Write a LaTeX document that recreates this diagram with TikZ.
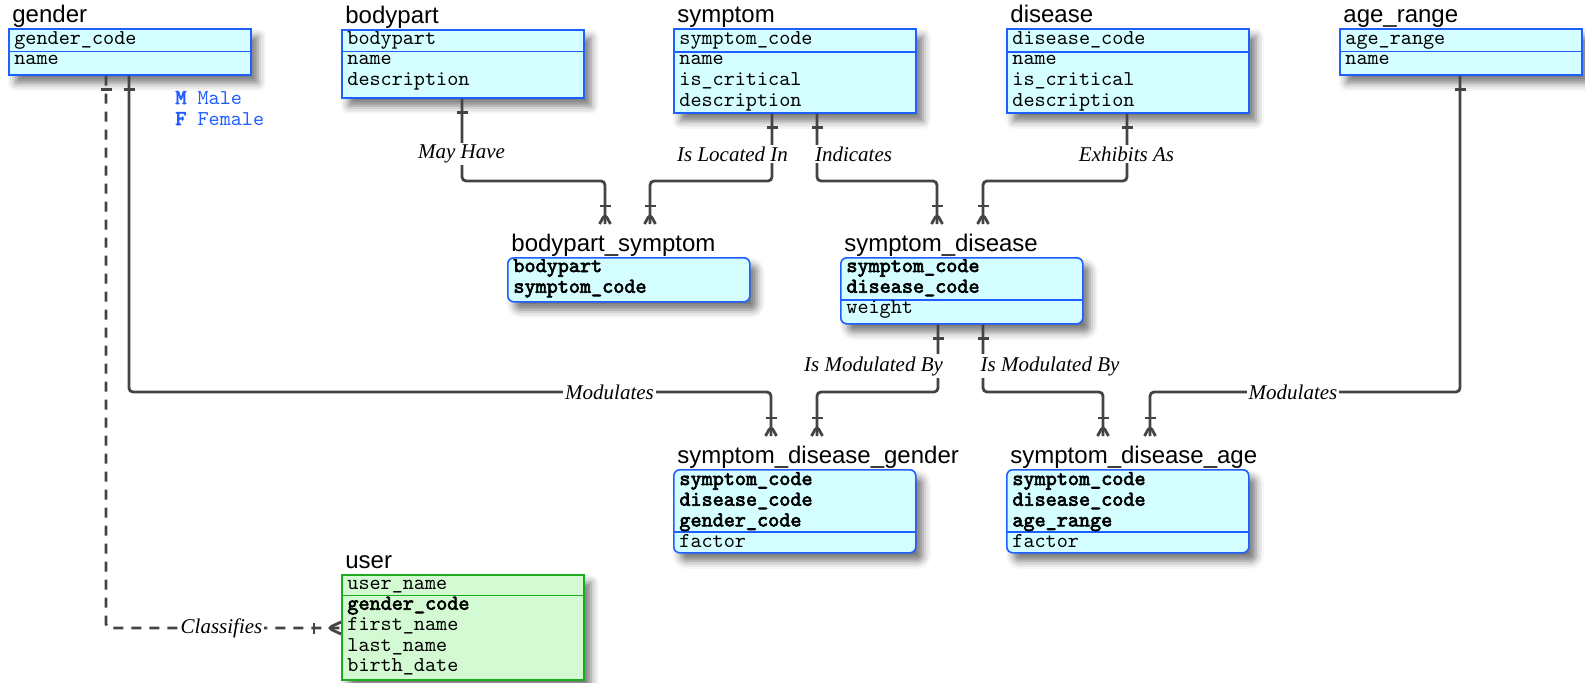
\documentclass[tikz,border=0pt]{standalone}
\usepackage{fontspec}
\setmainfont{Liberation Serif}
\setsansfont{Liberation Sans}
\setmonofont{Latin Modern Mono}[AutoFakeBold=3]
\usetikzlibrary{shadows.blur,decorations.markings}

\definecolor{tblfill}{HTML}{D4FEFF}
\definecolor{tbldraw}{HTML}{1F5FFF}
\definecolor{usrfill}{HTML}{D4FAD4}
\definecolor{usrdraw}{HTML}{1DAA1D}
\definecolor{relline}{HTML}{444444}
\definecolor{legblue}{HTML}{1F5FFF}

\begin{document}
\begin{tikzpicture}[x=0.5pt, y=-0.5pt,
    tbl/.style={draw=tbldraw, fill=tblfill, line width=0.8pt, anchor=north west, inner sep=0pt,
        minimum width=121pt,
        blur shadow={shadow xshift=3.5pt, shadow yshift=-4pt, shadow blur radius=4pt, shadow opacity=55}},
    lnk/.style={tbl, rounded corners=3pt},
    usr/.style={tbl, draw=usrdraw, fill=usrfill},
    ttl/.style={anchor=base west, inner sep=0pt, font=\fontsize{12}{14}\sffamily},
    fld/.style={anchor=base west, inner sep=0pt, font=\fontsize{10.57}{10.35}\ttfamily},
    div/.style={draw=tbldraw, line width=0.8pt},
    rel/.style={draw=relline, line width=1.4pt, rounded corners=2pt},
    lbl/.style={fill=white, inner sep=1pt, font=\fontsize{10.5}{12}\itshape},
    one/.style={postaction={decorate, decoration={markings,
        mark=at position 7pt with {\draw[solid, relline, line width=1.4pt] (0pt,-2.75pt) -- (0pt,2.75pt);}}}},
    many/.style={postaction={decorate, decoration={markings,
        mark=at position -9pt with {\draw[solid, relline, line width=1.4pt] (0pt,-2.75pt) -- (0pt,2.75pt);},
        mark=at position -5pt with {\draw[solid, relline, line width=1.4pt] (5pt,2.75pt) -- (0pt,0pt) -- (5pt,-2.75pt);}}}},
    many far/.style={postaction={decorate, decoration={markings,
        mark=at position -13.5pt with {\draw[solid, relline, line width=1.4pt] (0pt,-2.75pt) -- (0pt,2.75pt);},
        mark=at position -6.5pt with {\draw[solid, relline, line width=1.4pt] (6.5pt,3pt) -- (0pt,0pt) -- (6.5pt,-3pt);}}}}]

    \useasboundingbox (0,0) rectangle (1585,682);

    % entities
    \node[tbl, minimum height=23pt] (gender) at (8,28) {};
    \node[ttl] (gender-t) at (12,22) {gender};
    \draw[div] (8,51.5) -- (250,51.5);
    \foreach \f [count=\i from 0] in {gender\_code,name}
        \node[fld] (gender-\i) at (14,44+\i*20.7) {\f};

    \node[tbl, minimum height=34pt] (bodypart) at (341,29) {};
    \node[ttl] (bodypart-t) at (345,23) {bodypart};
    \draw[div] (341,51.5) -- (583,51.5);
    \foreach \f [count=\i from 0] in {bodypart,name,description}
        \node[fld] (bodypart-\i) at (347,44+\i*20.7) {\f};

    \node[tbl, minimum height=42pt] (symptom) at (673,28) {};
    \node[ttl] (symptom-t) at (677,22) {symptom};
    \draw[div] (673,52) -- (915,52);
    \foreach \f [count=\i from 0] in {symptom\_code,name,is\_critical,description}
        \node[fld] (symptom-\i) at (679,44+\i*20.7) {\f};

    \node[tbl, minimum height=42pt] (disease) at (1006,28) {};
    \node[ttl] (disease-t) at (1010,22) {disease};
    \draw[div] (1006,52) -- (1248,52);
    \foreach \f [count=\i from 0] in {disease\_code,name,is\_critical,description}
        \node[fld] (disease-\i) at (1012,44+\i*20.7) {\f};

    \node[tbl, minimum height=23pt] (agerange) at (1339,28) {};
    \node[ttl] (agerange-t) at (1343,22) {age\_range};
    \draw[div] (1339,51.5) -- (1581,51.5);
    \foreach \f [count=\i from 0] in {age\_range,name}
        \node[fld] (agerange-\i) at (1345,44+\i*20.7) {\f};

    % link tables
    \node[lnk, minimum height=22pt] (bpsym) at (507,257) {};
    \node[ttl] (bpsym-t) at (511,251) {bodypart\_symptom};
    \foreach \f [count=\i from 0] in {\textbf{bodypart},\textbf{symptom\_code}}
        \node[fld] (bpsym-\i) at (513,272+\i*20.7) {\f};

    \node[lnk, minimum height=33pt] (sympdis) at (840,257) {};
    \node[ttl] (sympdis-t) at (844,251) {symptom\_disease};
    \draw[div] (840,300) -- (1082,300);
    \foreach \f [count=\i from 0] in {\textbf{symptom\_code},\textbf{disease\_code},weight}
        \node[fld] (sympdis-\i) at (846,272+\i*20.7) {\f};

    \node[lnk, minimum height=41.5pt] (sdgender) at (673,469) {};
    \node[ttl] (sdgender-t) at (677,463) {symptom\_disease\_gender};
    \draw[div] (673,532) -- (915,532);
    \foreach \f [count=\i from 0] in {\textbf{symptom\_code},\textbf{disease\_code},\textbf{gender\_code},factor}
        \node[fld] (sdgender-\i) at (679,485+\i*20.7) {\f};

    \node[lnk, minimum height=41.5pt] (sdage) at (1006,469) {};
    \node[ttl] (sdage-t) at (1010,463) {symptom\_disease\_age};
    \draw[div] (1006,532) -- (1248,532);
    \foreach \f [count=\i from 0] in {\textbf{symptom\_code},\textbf{disease\_code},\textbf{age\_range},factor}
        \node[fld] (sdage-\i) at (1012,485+\i*20.7) {\f};

    \node[usr, minimum height=52.5pt] (user) at (341,574) {};
    \node[ttl] (user-t) at (345,568) {user};
    \draw[div, draw=usrdraw] (341,595.5) -- (583,595.5);
    \foreach \f [count=\i from 0] in {user\_name,\textbf{gender\_code},first\_name,last\_name,birth\_date}
        \node[fld] (user-\i) at (347,589+\i*20.7) {\f};

    % gender codes
    \node[fld, text=legblue] (leg-m) at (175,104) {\textbf{M} Male};
    \node[fld, text=legblue] (leg-f) at (175,125) {\textbf{F} Female};

    % connector ends
    \coordinate (bpsym-a) at (605,224);
    \coordinate (bpsym-b) at (650,224);
    \coordinate (sympdis-a) at (937,224);
    \coordinate (sympdis-b) at (983,224);
    \coordinate (sdgender-a) at (771,436);
    \coordinate (sdgender-b) at (817,436);
    \coordinate (sdage-a) at (1103,436);
    \coordinate (sdage-b) at (1150,436);
    \coordinate (user-a) at (user.west |- 0,628);

    % relationships
    \draw[rel, one, many] (bodypart.south -| 462,0) -- (462,181) -| (bpsym-a);
    \draw[rel, one, many] (symptom.south -| 772,0) -- (772,181) -| (bpsym-b);
    \draw[rel, one, many] (symptom.south -| 817,0) -- (817,181) -| (sympdis-a);
    \draw[rel, one, many] (disease.south -| 1127,0) -- (1127,181) -| (sympdis-b);
    \draw[rel, one, many] (sympdis.south -| 938,0) -- (938,392) -| (sdgender-b);
    \draw[rel, one, many] (sympdis.south -| 983,0) -- (983,392) -| (sdage-a);
    \draw[rel, one, many] (gender.south -| 129,0) -- (129,392) -| (sdgender-a);
    \draw[rel, one, many] (agerange.south -| 1460,0) -- (1460,392) -| (sdage-b);
    \draw[rel, dash pattern=on 5pt off 4pt, one, many far] (gender.south -| 106,0) |- (user-a);

    % labels
    \node[lbl] (l-mayhave) at (461.5,154) {May Have};
    \node[lbl] (l-located) at (732.5,154) {Is Located In};
    \node[lbl] (l-indicates) at (853.5,154) {Indicates};
    \node[lbl] (l-exhibits) at (1126.5,154) {Exhibits As};
    \node[lbl] (l-modby-g) at (873.5,366) {Is Modulated By};
    \node[lbl] (l-modby-a) at (1050,366) {Is Modulated By};
    \node[lbl] (l-mod-g) at (609.5,392) {Modulates};
    \node[lbl] (l-mod-a) at (1293,392) {Modulates};
    \node[lbl] (l-classifies) at (221.5,628) {Classifies};
\end{tikzpicture}
\end{document}
